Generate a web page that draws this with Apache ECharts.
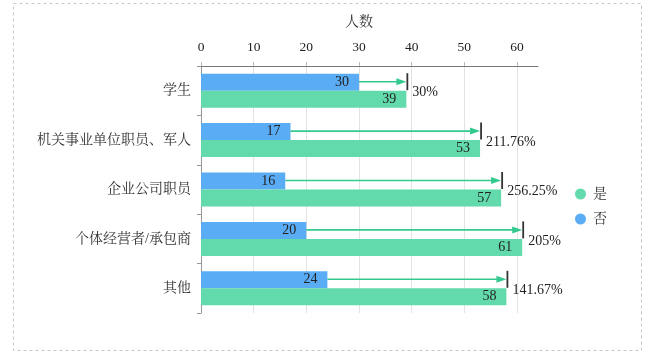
<!DOCTYPE html>
<html><head><meta charset="utf-8">
<script src="https://cdn.jsdelivr.net/npm/echarts@6/dist/echarts.min.js"></script>
<style>html,body{margin:0;padding:0;background:#fff}#c{width:654px;height:355px}</style>
</head><body><div id="c"></div>
<script>
const categories = ['学生', '机关事业单位职员、军人', '企业公司职员', '个体经营者/承包商', '其他'];
const noValues = [30, 17, 16, 20, 24];
const yesValues = [39, 53, 57, 61, 58];
const xTicks = [0, 10, 20, 30, 40, 50, 60];
const xMax = 64;
const growthLabels = noValues.map((b, i) => (+(((yesValues[i] - b) / b) * 100).toFixed(2)) + '%');

const FONT = "'Liberation Serif','Times New Roman','Noto Serif CJK SC','Noto Sans CJK SC',serif";
const BLUE = '#5aacf5', GREEN = '#62daab', ARROW = '#34c98e';

const chart = echarts.init(document.getElementById('c'));
chart.setOption({
  animation: false,
  textStyle: { fontFamily: FONT },
  graphic: [{
    type: 'rect', silent: true,
    shape: { x: 13.5, y: 3.5, width: 628, height: 347 },
    style: { fill: 'none', stroke: '#c8c8c8', lineWidth: 1, lineDash: [3, 3] }
  }],
  legend: {
    data: ['是', '否'], orient: 'vertical', left: 570, top: 182,
    icon: 'circle', itemWidth: 11, itemHeight: 11, itemGap: 11,
    textStyle: { fontFamily: FONT, fontSize: 14, color: '#333', padding: [0, 0, 0, 2] }
  },
  grid: { left: 201, right: 116, top: 66, bottom: 42, containLabel: false },
  xAxis: {
    type: 'value', position: 'top', min: 0, max: xMax,
    name: '人数', nameLocation: 'middle', nameGap: 37,
    nameTextStyle: { fontFamily: FONT, fontSize: 14, color: '#333', padding: [0, 21, 0, 0] },
    axisLine: { show: true, lineStyle: { color: '#777' } },
    axisTick: { show: true, length: 4, customValues: xTicks, lineStyle: { color: '#bbb' } },
    axisLabel: { customValues: xTicks, margin: 12, fontFamily: FONT, fontSize: 13.5, color: '#222' },
    splitLine: { show: true, lineStyle: { color: '#e3e3e3' } }
  },
  yAxis: {
    type: 'category', inverse: true, data: categories,
    axisLine: { show: true, lineStyle: { color: '#999' } },
    axisTick: { show: true, length: 4, lineStyle: { color: '#999' } },
    axisLabel: { margin: 10, fontFamily: FONT, fontSize: 14, color: '#333' }
  },
  series: [
    {
      name: '否', type: 'bar', data: noValues, barWidth: 17, barGap: '0%',
      itemStyle: { color: BLUE },
      label: { show: true, position: 'insideRight', distance: 10, fontFamily: FONT, fontSize: 14, color: '#222' }
    },
    {
      name: '是', type: 'bar', data: yesValues, barWidth: 17, barGap: '0%',
      itemStyle: { color: GREEN },
      label: { show: true, position: 'insideRight', distance: 10, fontFamily: FONT, fontSize: 14, color: '#222' }
    },
    {
      name: '增幅', type: 'custom', silent: true, z: 5,
      data: categories.map((c, i) => [i, noValues[i], yesValues[i]]),
      encode: { x: [1, 2], y: 0 },
      renderItem: function (params, api) {
        const i = api.value(0), b = api.value(1), g = api.value(2);
        const p0 = api.coord([b, i]);
        const p1 = api.coord([g, i]);
        const cy = p0[1];
        const ay = cy - 9;
        const ex = p1[0];
        return {
          type: 'group',
          children: [
            { type: 'line', shape: { x1: p0[0], y1: ay, x2: ex - 6, y2: ay },
              style: { stroke: ARROW, lineWidth: 1.6 } },
            { type: 'polygon', shape: { points: [[ex, ay], [ex - 10, ay - 3.5], [ex - 10, ay + 3.5]] },
              style: { fill: ARROW } },
            { type: 'line', shape: { x1: ex + 1, y1: cy - 17.5, x2: ex + 1, y2: cy - 0.5 },
              style: { stroke: '#333', lineWidth: 1.8 } },
            { type: 'text', x: ex + 6, y: cy + 2,
              style: { text: growthLabels[params.dataIndex], fill: '#222', font: '14px ' + FONT,
                       textAlign: 'left', textVerticalAlign: 'middle' } }
          ]
        };
      }
    }
  ]
});
</script></body></html>
